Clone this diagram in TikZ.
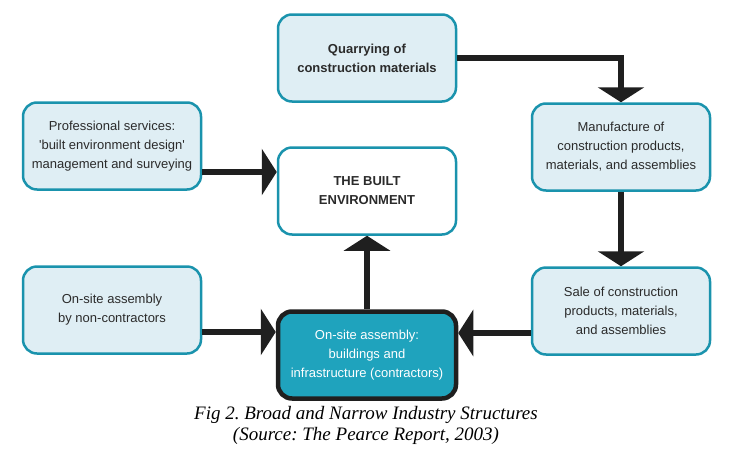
\documentclass[tikz,border=0pt]{standalone}
\usepackage{fontspec}
\setmainfont{Liberation Serif}
\setsansfont{Liberation Sans}
\usetikzlibrary{arrows.meta}
\definecolor{boxfill}{HTML}{DFEEF4}
\definecolor{boxline}{HTML}{1A93AD}
\definecolor{mainfill}{HTML}{1FA3BD}
\definecolor{txt}{HTML}{2B2B2B}
\frenchspacing
\begin{document}
\begin{tikzpicture}[x=1pt, y=-1pt,
		box/.style={draw=boxline, fill=boxfill, line width=2.5pt, rounded corners=14pt,
			minimum width=178pt, minimum height=87pt, align=center, text=txt,
			font=\sffamily\fontsize{13}{19}\selectfont},
		mainbox/.style={box, draw=black!88, fill=mainfill, line width=4.5pt, text=white},
		arr/.style={line width=6pt, draw=black!88, -{Triangle[length=15pt 0, width=46pt 0]}}]
		\useasboundingbox (0,0) rectangle (736,453);
		\node[box] (quarry) at (367,58) {\textbf{Quarrying of}\\\textbf{construction materials}};
		\node[box] (prof) at (112,146) {Professional services:\\\textquotesingle built environment design\textquotesingle\\management and surveying};
		\node[box, fill=white] (built) at (367,191) {\textbf{THE BUILT}\\\textbf{ENVIRONMENT}};
		\node[box] (manu) at (621,147) {Manufacture of\\construction products,\\materials, and assemblies};
		\node[box] (noncon) at (112,310) {On-site assembly\\by non-contractors};
		\node[box] (sale) at (621,311) {Sale of construction\\products, materials,\\and assemblies};
		\node[mainbox] (contr) at (367,355) {On-site assembly:\\buildings and\\infrastructure (contractors)};
		\coordinate (p1) at ([yshift=-26pt]prof.east);
		\coordinate (p2) at ([yshift=-22pt]noncon.east);
		\coordinate (p3) at ([yshift=-22pt]sale.west);
		\draw[arr] (quarry.east) -| (manu.north);
		\draw[arr] (manu.south) -- (sale.north);
		\draw[arr] (p1) -- (p1 -| built.west);
		\draw[arr] (p2) -- (p2 -| contr.west);
		\draw[arr] (p3) -- (p3 -| contr.east);
		\draw[arr] (contr.north) -- (built.south);
		\node[font=\itshape\fontsize{19}{21}\selectfont, align=center] (caption) at (366,425)
			{Fig 2. Broad and Narrow Industry Structures\\(Source: The Pearce Report, 2003)};
	\end{tikzpicture}
\end{document}
